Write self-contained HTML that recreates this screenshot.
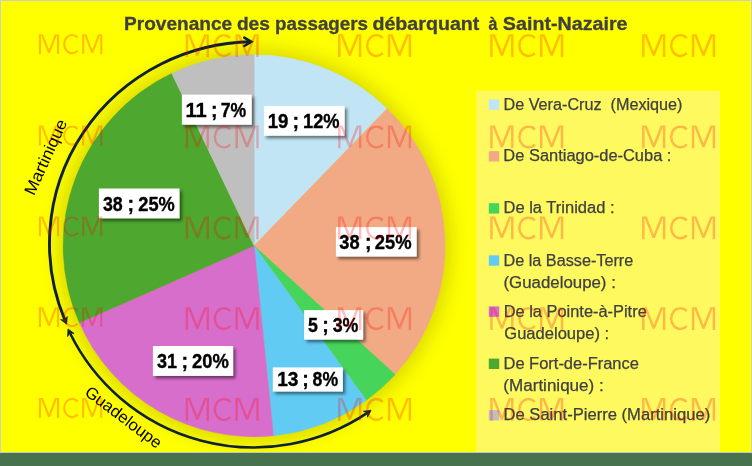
<!DOCTYPE html>
<html><head><meta charset="utf-8"><style>
html,body{margin:0;padding:0;background:#ffff00;}
body{width:752px;height:466px;overflow:hidden;position:relative;font-family:"Liberation Sans",sans-serif;}
svg{position:absolute;left:0;top:0;will-change:transform;}
svg text{font-family:"Liberation Sans",sans-serif;}
</style></head><body>
<svg width="752" height="466" viewBox="0 0 752 466">
<defs>
<filter id="ps" x="-20%" y="-20%" width="140%" height="140%"><feGaussianBlur stdDeviation="10"/></filter>
<filter id="ls" x="-20%" y="-30%" width="140%" height="170%"><feDropShadow dx="2.4" dy="2.6" stdDeviation="1.8" flood-color="#000" flood-opacity="0.5"/></filter>
<marker id="ah" viewBox="0 0 12 12" refX="10" refY="6" markerWidth="12" markerHeight="12" markerUnits="userSpaceOnUse" orient="auto-start-reverse"><path d="M1,1 L10,6 L1,11" fill="none" stroke="#0e2135" stroke-width="2.6" stroke-linecap="round" stroke-linejoin="miter"/></marker>
<marker id="ahs" viewBox="0 0 12 12" refX="9" refY="6" markerWidth="9" markerHeight="9" markerUnits="userSpaceOnUse" orient="auto-start-reverse"><path d="M1,1 L10,6 L1,11" fill="none" stroke="#0e2135" stroke-width="3" stroke-linecap="round"/></marker>
<clipPath id="c70_34"><rect x="37.90" y="34.20" width="65.40" height="20.80"/></clipPath><clipPath id="c70_125"><rect x="37.90" y="125.60" width="65.40" height="20.80"/></clipPath><clipPath id="c70_216"><rect x="37.90" y="216.50" width="65.40" height="20.80"/></clipPath><clipPath id="c70_307"><rect x="37.90" y="307.20" width="65.40" height="20.80"/></clipPath><clipPath id="c70_398"><rect x="37.90" y="398.10" width="65.40" height="20.80"/></clipPath><clipPath id="c222_34"><rect x="184.70" y="34.20" width="75.00" height="23.70"/></clipPath><clipPath id="c222_125"><rect x="184.70" y="125.60" width="75.00" height="23.70"/></clipPath><clipPath id="c222_216"><rect x="184.70" y="216.50" width="75.00" height="23.70"/></clipPath><clipPath id="c222_307"><rect x="184.70" y="307.20" width="75.00" height="23.70"/></clipPath><clipPath id="c222_398"><rect x="184.70" y="398.10" width="75.00" height="23.70"/></clipPath><clipPath id="c374_34"><rect x="337.10" y="34.20" width="75.00" height="23.70"/></clipPath><clipPath id="c374_125"><rect x="337.10" y="125.60" width="75.00" height="23.70"/></clipPath><clipPath id="c374_216"><rect x="337.10" y="216.50" width="75.00" height="23.70"/></clipPath><clipPath id="c374_307"><rect x="337.10" y="307.20" width="75.00" height="23.70"/></clipPath><clipPath id="c374_398"><rect x="337.10" y="398.10" width="75.00" height="23.70"/></clipPath><clipPath id="c526_34"><rect x="489.25" y="34.20" width="75.00" height="23.70"/></clipPath><clipPath id="c526_125"><rect x="489.25" y="125.60" width="75.00" height="23.70"/></clipPath><clipPath id="c526_216"><rect x="489.25" y="216.50" width="75.00" height="23.70"/></clipPath><clipPath id="c526_307"><rect x="489.25" y="307.20" width="75.00" height="23.70"/></clipPath><clipPath id="c526_398"><rect x="489.25" y="398.10" width="75.00" height="23.70"/></clipPath><clipPath id="c678_34"><rect x="641.10" y="34.20" width="75.00" height="23.70"/></clipPath><clipPath id="c678_125"><rect x="641.10" y="125.60" width="75.00" height="23.70"/></clipPath><clipPath id="c678_216"><rect x="641.10" y="216.50" width="75.00" height="23.70"/></clipPath><clipPath id="c678_307"><rect x="641.10" y="307.20" width="75.00" height="23.70"/></clipPath><clipPath id="c678_398"><rect x="641.10" y="398.10" width="75.00" height="23.70"/></clipPath>
</defs>
<rect x="476.2" y="90.8" width="243.8" height="362" fill="#fdf95f"/>
<circle cx="254.1" cy="245.7" r="195.95" fill="#000" opacity="0.16" filter="url(#ps)"/>
<path d="M254.1,245.7 L254.10,54.75 A190.95,190.95 0 0 1 387.05,108.64 Z" fill="#C1E5F5" stroke="#C1E5F5" stroke-width="0.5"/><path d="M254.1,245.7 L387.05,108.64 A190.95,190.95 0 0 1 395.14,374.43 Z" fill="#F2AA84" stroke="#F2AA84" stroke-width="0.5"/><path d="M254.1,245.7 L395.14,374.43 A190.95,190.95 0 0 1 366.34,400.18 Z" fill="#47D45A" stroke="#47D45A" stroke-width="0.5"/><path d="M254.1,245.7 L366.34,400.18 A190.95,190.95 0 0 1 273.42,435.67 Z" fill="#61CBF4" stroke="#61CBF4" stroke-width="0.5"/><path d="M254.1,245.7 L273.42,435.67 A190.95,190.95 0 0 1 79.40,322.78 Z" fill="#D86ECC" stroke="#D86ECC" stroke-width="0.5"/><path d="M254.1,245.7 L79.40,322.78 A190.95,190.95 0 0 1 171.75,73.42 Z" fill="#4EA72E" stroke="#4EA72E" stroke-width="0.5"/><path d="M254.1,245.7 L171.75,73.42 A190.95,190.95 0 0 1 254.10,54.75 Z" fill="#BFBFBF" stroke="#BFBFBF" stroke-width="0.5"/>
<rect x="263.9" y="105.9" width="80.7" height="29.8" fill="#fff" filter="url(#ls)"/><text id="lb0a" x="267.76" font-size="19.6" textLength="20.72" lengthAdjust="spacingAndGlyphs" y="127.50" font-weight="bold" fill="#000" stroke="#000" stroke-width="0.35">19</text><text id="lb0b" x="292.61" font-size="19.6" y="127.50" font-weight="bold" fill="#000" stroke="#000" stroke-width="0.35">;</text><text id="lb0c" x="302.97" font-size="19.6" textLength="36.63" lengthAdjust="spacingAndGlyphs" y="127.50" font-weight="bold" fill="#000" stroke="#000" stroke-width="0.35">12%</text><rect x="335.9" y="227.1" width="80.7" height="29.4" fill="#fff" filter="url(#ls)"/><text id="lb1a" x="339.33" font-size="19.6" textLength="20.31" lengthAdjust="spacingAndGlyphs" y="248.75" font-weight="bold" fill="#000" stroke="#000" stroke-width="0.35">38</text><text id="lb1b" x="364.91" font-size="19.6" y="248.75" font-weight="bold" fill="#000" stroke="#000" stroke-width="0.35">;</text><text id="lb1c" x="374.86" font-size="19.6" textLength="36.84" lengthAdjust="spacingAndGlyphs" y="248.75" font-weight="bold" fill="#000" stroke="#000" stroke-width="0.35">25%</text><rect x="304.1" y="310.1" width="59.0" height="29.5" fill="#fff" filter="url(#ls)"/><text id="lb2a" x="308.11" font-size="19.6" textLength="9.89" lengthAdjust="spacingAndGlyphs" y="331.60" font-weight="bold" fill="#000" stroke="#000" stroke-width="0.35">5</text><text id="lb2b" x="322.30" font-size="19.6" y="331.60" font-weight="bold" fill="#000" stroke="#000" stroke-width="0.35">;</text><text id="lb2c" x="332.69" font-size="19.6" textLength="25.74" lengthAdjust="spacingAndGlyphs" y="331.60" font-weight="bold" fill="#000" stroke="#000" stroke-width="0.35">3%</text><rect x="272.8" y="367.4" width="70.0" height="24.1" fill="#fff" filter="url(#ls)"/><text id="lb3a" x="277.16" font-size="19.6" textLength="21.24" lengthAdjust="spacingAndGlyphs" y="386.00" font-weight="bold" fill="#000" stroke="#000" stroke-width="0.35">13</text><text id="lb3b" x="302.23" font-size="19.6" y="386.00" font-weight="bold" fill="#000" stroke="#000" stroke-width="0.35">;</text><text id="lb3c" x="312.60" font-size="19.6" textLength="25.52" lengthAdjust="spacingAndGlyphs" y="386.00" font-weight="bold" fill="#000" stroke="#000" stroke-width="0.35">8%</text><rect x="152.9" y="346.0" width="80.2" height="29.9" fill="#fff" filter="url(#ls)"/><text id="lb4a" x="156.91" font-size="19.6" textLength="20.06" lengthAdjust="spacingAndGlyphs" y="368.10" font-weight="bold" fill="#000" stroke="#000" stroke-width="0.35">31</text><text id="lb4b" x="181.61" font-size="19.6" y="368.10" font-weight="bold" fill="#000" stroke="#000" stroke-width="0.35">;</text><text id="lb4c" x="191.97" font-size="19.6" textLength="36.77" lengthAdjust="spacingAndGlyphs" y="368.10" font-weight="bold" fill="#000" stroke="#000" stroke-width="0.35">20%</text><rect x="98.9" y="188.5" width="80.6" height="29.8" fill="#fff" filter="url(#ls)"/><text id="lb5a" x="102.91" font-size="19.6" textLength="19.75" lengthAdjust="spacingAndGlyphs" y="210.50" font-weight="bold" fill="#000" stroke="#000" stroke-width="0.35">38</text><text id="lb5b" x="127.56" font-size="19.6" y="210.50" font-weight="bold" fill="#000" stroke="#000" stroke-width="0.35">;</text><text id="lb5c" x="138.28" font-size="19.6" textLength="36.51" lengthAdjust="spacingAndGlyphs" y="210.50" font-weight="bold" fill="#000" stroke="#000" stroke-width="0.35">25%</text><rect x="181.9" y="94.6" width="69.8" height="30.1" fill="#fff" filter="url(#ls)"/><text id="lb6a" x="185.42" font-size="19.6" textLength="21.25" lengthAdjust="spacingAndGlyphs" y="116.50" font-weight="bold" fill="#000" stroke="#000" stroke-width="0.35">11</text><text id="lb6b" x="210.89" font-size="19.6" y="116.50" font-weight="bold" fill="#000" stroke="#000" stroke-width="0.35">;</text><text id="lb6c" x="220.69" font-size="19.6" textLength="25.47" lengthAdjust="spacingAndGlyphs" y="116.50" font-weight="bold" fill="#000" stroke="#000" stroke-width="0.35">7%</text>
<rect x="488.8" y="99.5" width="10.4" height="10.4" fill="#C1E5F5"/><text id="lg0_0" x="503.54" font-size="16" textLength="178.95" lengthAdjust="spacingAndGlyphs" y="109.7" fill="#404040" stroke="#404040" stroke-width="0.25">De Vera-Cruz  (Mexique)</text><rect x="488.8" y="151.1" width="10.4" height="10.4" fill="#F2AA84"/><text id="lg1_0" x="503.38" font-size="16" textLength="168.03" lengthAdjust="spacingAndGlyphs" y="161.3" fill="#404040" stroke="#404040" stroke-width="0.25">De Santiago-de-Cuba :</text><rect x="488.8" y="203.2" width="10.4" height="10.4" fill="#47D45A"/><text id="lg2_0" x="503.52" font-size="16" textLength="111.01" lengthAdjust="spacingAndGlyphs" y="213.4" fill="#404040" stroke="#404040" stroke-width="0.25">De la Trinidad :</text><rect x="488.8" y="255.3" width="10.4" height="10.4" fill="#61CBF4"/><text id="lg3_0" x="503.47" font-size="16" textLength="129.77" lengthAdjust="spacingAndGlyphs" y="265.5" fill="#404040" stroke="#404040" stroke-width="0.25">De la Basse-Terre</text><text id="lg3_1" x="503.51" font-size="16" textLength="112.33" lengthAdjust="spacingAndGlyphs" y="288.0" fill="#404040" stroke="#404040" stroke-width="0.25">(Guadeloupe) :</text><rect x="488.8" y="306.4" width="10.4" height="10.4" fill="#D86ECC"/><text id="lg4_0" x="503.71" font-size="16" textLength="143.06" lengthAdjust="spacingAndGlyphs" y="316.6" fill="#404040" stroke="#404040" stroke-width="0.25">De la Pointe-à-Pitre</text><text id="lg4_1" x="504.29" font-size="16" textLength="104.91" lengthAdjust="spacingAndGlyphs" y="339.1" fill="#404040" stroke="#404040" stroke-width="0.25">Guadeloupe) :</text><rect x="488.8" y="358.6" width="10.4" height="10.4" fill="#4EA72E"/><text id="lg5_0" x="503.51" font-size="16" textLength="135.38" lengthAdjust="spacingAndGlyphs" y="368.8" fill="#404040" stroke="#404040" stroke-width="0.25">De Fort-de-France</text><text id="lg5_1" x="503.39" font-size="16" textLength="100.33" lengthAdjust="spacingAndGlyphs" y="391.3" fill="#404040" stroke="#404040" stroke-width="0.25">(Martinique) :</text><rect x="488.8" y="410.1" width="10.4" height="10.4" fill="#BFBFBF"/><text id="lg6_0" x="503.48" font-size="16" textLength="206.71" lengthAdjust="spacingAndGlyphs" y="420.3" fill="#404040" stroke="#404040" stroke-width="0.25">De Saint-Pierre (Martinique)</text>
<text id="tw0" x="124.05" font-size="19.2" textLength="108.15" lengthAdjust="spacingAndGlyphs" y="30.3" font-weight="bold" fill="#404040" stroke="#404040" stroke-width="0.3">Provenance</text><text id="tw1" x="236.90" font-size="19.2" textLength="33.06" lengthAdjust="spacingAndGlyphs" y="30.3" font-weight="bold" fill="#404040" stroke="#404040" stroke-width="0.3">des</text><text id="tw2" x="275.08" font-size="19.2" textLength="92.92" lengthAdjust="spacingAndGlyphs" y="30.3" font-weight="bold" fill="#404040" stroke="#404040" stroke-width="0.3">passagers</text><text id="tw3" x="372.43" font-size="19.2" textLength="106.94" lengthAdjust="spacingAndGlyphs" y="30.3" font-weight="bold" fill="#404040" stroke="#404040" stroke-width="0.3">débarquant</text><text id="tw4" x="488.38" font-size="19.2" textLength="8.92" lengthAdjust="spacingAndGlyphs" y="30.3" font-weight="bold" fill="#404040" stroke="#404040" stroke-width="0.3">à</text><text id="tw5" x="502.88" font-size="19.2" textLength="124.63" lengthAdjust="spacingAndGlyphs" y="30.3" font-weight="bold" fill="#404040" stroke="#404040" stroke-width="0.3">Saint-Nazaire</text>
<path d="M64.90,320.15 A205.4,201.75 0 0 1 250.96,41.79" fill="none" stroke="#0e2135" stroke-width="2.9"/><path d="M66.68,324.27 L60.63,319.52 L64.97,320.43 L67.20,316.59 Z" fill="#0e2135" stroke="#0e2135" stroke-width="0.8" stroke-linejoin="miter"/><path d="M244.32,46.00 L251.30,41.77 L244.28,37.60" fill="none" stroke="#0e2135" stroke-width="2.6" stroke-linejoin="miter" stroke-miterlimit="10" stroke-linecap="round"/>
<path d="M69.95,332.99 A204.52,204.52 0 0 0 367.31,412.89" fill="none" stroke="#0e2135" stroke-width="2.6"/><path d="M68.02,328.93 L74.14,333.59 L69.78,332.74 L67.61,336.62 Z" fill="#0e2135" stroke="#0e2135" stroke-width="0.8" stroke-linejoin="miter"/><path d="M371.02,410.35 L367.52,417.20 L367.59,412.76 L363.39,411.31 Z" fill="#0e2135" stroke="#0e2135" stroke-width="0.8" stroke-linejoin="miter"/>
<text id="tm" transform="translate(50.81,159.31) rotate(-65.5)" text-anchor="middle" y="0" font-size="16.5" textLength="81.0" lengthAdjust="spacingAndGlyphs" fill="#000">Martinique</text>
<text id="tg" transform="translate(120.16,421.61) rotate(37.0)" text-anchor="middle" y="0" font-size="16.5" textLength="91.3" lengthAdjust="spacingAndGlyphs" fill="#000">Guadeloupe</text>
<rect x="0" y="452" width="752" height="1.2" fill="#c4c4c4"/>
<rect x="0" y="453" width="752" height="13" fill="#48724e"/>
<rect x="0" y="0" width="752" height="1" fill="#cdcdcd"/>
<rect x="0" y="0" width="1" height="453" fill="#cdcdcd"/>
<rect x="751" y="0" width="1" height="453" fill="#cdcdcd"/>
<g stroke="#ff0000" opacity="0.26">
<g clip-path="url(#c70_34)"><path d="M39.96,54.00 L39.96,31.20 L40.73,31.20 L48.99,52.62 L57.25,31.20 L58.03,31.20 L58.03,54.00" fill="none" stroke-width="2.11" stroke-linejoin="bevel"/><path d="M77.62,37.55 A7.94,9.10 0 1 0 77.62,50.65" fill="none" stroke-width="2.11"/><path d="M83.17,54.00 L83.17,31.20 L83.95,31.20 L92.21,52.62 L100.47,31.20 L101.24,31.20 L101.24,54.00" fill="none" stroke-width="2.11" stroke-linejoin="bevel"/></g><g clip-path="url(#c70_125)"><path d="M39.96,145.40 L39.96,122.60 L40.73,122.60 L48.99,144.02 L57.25,122.60 L58.03,122.60 L58.03,145.40" fill="none" stroke-width="2.11" stroke-linejoin="bevel"/><path d="M77.62,128.95 A7.94,9.10 0 1 0 77.62,142.05" fill="none" stroke-width="2.11"/><path d="M83.17,145.40 L83.17,122.60 L83.95,122.60 L92.21,144.02 L100.47,122.60 L101.24,122.60 L101.24,145.40" fill="none" stroke-width="2.11" stroke-linejoin="bevel"/></g><g clip-path="url(#c70_216)"><path d="M39.96,236.30 L39.96,213.50 L40.73,213.50 L48.99,234.92 L57.25,213.50 L58.03,213.50 L58.03,236.30" fill="none" stroke-width="2.11" stroke-linejoin="bevel"/><path d="M77.62,219.85 A7.94,9.10 0 1 0 77.62,232.95" fill="none" stroke-width="2.11"/><path d="M83.17,236.30 L83.17,213.50 L83.95,213.50 L92.21,234.92 L100.47,213.50 L101.24,213.50 L101.24,236.30" fill="none" stroke-width="2.11" stroke-linejoin="bevel"/></g><g clip-path="url(#c70_307)"><path d="M39.96,327.00 L39.96,304.20 L40.73,304.20 L48.99,325.62 L57.25,304.20 L58.03,304.20 L58.03,327.00" fill="none" stroke-width="2.11" stroke-linejoin="bevel"/><path d="M77.62,310.55 A7.94,9.10 0 1 0 77.62,323.65" fill="none" stroke-width="2.11"/><path d="M83.17,327.00 L83.17,304.20 L83.95,304.20 L92.21,325.62 L100.47,304.20 L101.24,304.20 L101.24,327.00" fill="none" stroke-width="2.11" stroke-linejoin="bevel"/></g><g clip-path="url(#c70_398)"><path d="M39.96,417.90 L39.96,395.10 L40.73,395.10 L48.99,416.52 L57.25,395.10 L58.03,395.10 L58.03,417.90" fill="none" stroke-width="2.11" stroke-linejoin="bevel"/><path d="M77.62,401.45 A7.94,9.10 0 1 0 77.62,414.55" fill="none" stroke-width="2.11"/><path d="M83.17,417.90 L83.17,395.10 L83.95,395.10 L92.21,416.52 L100.47,395.10 L101.24,395.10 L101.24,417.90" fill="none" stroke-width="2.11" stroke-linejoin="bevel"/></g><g clip-path="url(#c222_34)"><path d="M186.92,56.90 L186.92,31.20 L187.81,31.20 L197.32,55.31 L206.83,31.20 L207.72,31.20 L207.72,56.90" fill="none" stroke-width="2.43" stroke-linejoin="bevel"/><path d="M230.29,38.05 A9.14,10.43 0 1 0 230.29,53.05" fill="none" stroke-width="2.43"/><path d="M236.68,56.90 L236.68,31.20 L237.57,31.20 L247.08,55.31 L256.59,31.20 L257.48,31.20 L257.48,56.90" fill="none" stroke-width="2.43" stroke-linejoin="bevel"/></g><g clip-path="url(#c222_125)"><path d="M186.92,148.30 L186.92,122.60 L187.81,122.60 L197.32,146.71 L206.83,122.60 L207.72,122.60 L207.72,148.30" fill="none" stroke-width="2.43" stroke-linejoin="bevel"/><path d="M230.29,129.45 A9.14,10.43 0 1 0 230.29,144.45" fill="none" stroke-width="2.43"/><path d="M236.68,148.30 L236.68,122.60 L237.57,122.60 L247.08,146.71 L256.59,122.60 L257.48,122.60 L257.48,148.30" fill="none" stroke-width="2.43" stroke-linejoin="bevel"/></g><g clip-path="url(#c222_216)"><path d="M186.92,239.20 L186.92,213.50 L187.81,213.50 L197.32,237.61 L206.83,213.50 L207.72,213.50 L207.72,239.20" fill="none" stroke-width="2.43" stroke-linejoin="bevel"/><path d="M230.29,220.35 A9.14,10.43 0 1 0 230.29,235.35" fill="none" stroke-width="2.43"/><path d="M236.68,239.20 L236.68,213.50 L237.57,213.50 L247.08,237.61 L256.59,213.50 L257.48,213.50 L257.48,239.20" fill="none" stroke-width="2.43" stroke-linejoin="bevel"/></g><g clip-path="url(#c222_307)"><path d="M186.92,329.90 L186.92,304.20 L187.81,304.20 L197.32,328.31 L206.83,304.20 L207.72,304.20 L207.72,329.90" fill="none" stroke-width="2.43" stroke-linejoin="bevel"/><path d="M230.29,311.05 A9.14,10.43 0 1 0 230.29,326.05" fill="none" stroke-width="2.43"/><path d="M236.68,329.90 L236.68,304.20 L237.57,304.20 L247.08,328.31 L256.59,304.20 L257.48,304.20 L257.48,329.90" fill="none" stroke-width="2.43" stroke-linejoin="bevel"/></g><g clip-path="url(#c222_398)"><path d="M186.92,420.80 L186.92,395.10 L187.81,395.10 L197.32,419.21 L206.83,395.10 L207.72,395.10 L207.72,420.80" fill="none" stroke-width="2.43" stroke-linejoin="bevel"/><path d="M230.29,401.95 A9.14,10.43 0 1 0 230.29,416.95" fill="none" stroke-width="2.43"/><path d="M236.68,420.80 L236.68,395.10 L237.57,395.10 L247.08,419.21 L256.59,395.10 L257.48,395.10 L257.48,420.80" fill="none" stroke-width="2.43" stroke-linejoin="bevel"/></g><g clip-path="url(#c374_34)"><path d="M339.32,56.90 L339.32,31.20 L340.21,31.20 L349.72,55.31 L359.23,31.20 L360.12,31.20 L360.12,56.90" fill="none" stroke-width="2.43" stroke-linejoin="bevel"/><path d="M382.69,38.05 A9.14,10.43 0 1 0 382.69,53.05" fill="none" stroke-width="2.43"/><path d="M389.08,56.90 L389.08,31.20 L389.97,31.20 L399.48,55.31 L408.99,31.20 L409.88,31.20 L409.88,56.90" fill="none" stroke-width="2.43" stroke-linejoin="bevel"/></g><g clip-path="url(#c374_125)"><path d="M339.32,148.30 L339.32,122.60 L340.21,122.60 L349.72,146.71 L359.23,122.60 L360.12,122.60 L360.12,148.30" fill="none" stroke-width="2.43" stroke-linejoin="bevel"/><path d="M382.69,129.45 A9.14,10.43 0 1 0 382.69,144.45" fill="none" stroke-width="2.43"/><path d="M389.08,148.30 L389.08,122.60 L389.97,122.60 L399.48,146.71 L408.99,122.60 L409.88,122.60 L409.88,148.30" fill="none" stroke-width="2.43" stroke-linejoin="bevel"/></g><g clip-path="url(#c374_216)"><path d="M339.32,239.20 L339.32,213.50 L340.21,213.50 L349.72,237.61 L359.23,213.50 L360.12,213.50 L360.12,239.20" fill="none" stroke-width="2.43" stroke-linejoin="bevel"/><path d="M382.69,220.35 A9.14,10.43 0 1 0 382.69,235.35" fill="none" stroke-width="2.43"/><path d="M389.08,239.20 L389.08,213.50 L389.97,213.50 L399.48,237.61 L408.99,213.50 L409.88,213.50 L409.88,239.20" fill="none" stroke-width="2.43" stroke-linejoin="bevel"/></g><g clip-path="url(#c374_307)"><path d="M339.32,329.90 L339.32,304.20 L340.21,304.20 L349.72,328.31 L359.23,304.20 L360.12,304.20 L360.12,329.90" fill="none" stroke-width="2.43" stroke-linejoin="bevel"/><path d="M382.69,311.05 A9.14,10.43 0 1 0 382.69,326.05" fill="none" stroke-width="2.43"/><path d="M389.08,329.90 L389.08,304.20 L389.97,304.20 L399.48,328.31 L408.99,304.20 L409.88,304.20 L409.88,329.90" fill="none" stroke-width="2.43" stroke-linejoin="bevel"/></g><g clip-path="url(#c374_398)"><path d="M339.32,420.80 L339.32,395.10 L340.21,395.10 L349.72,419.21 L359.23,395.10 L360.12,395.10 L360.12,420.80" fill="none" stroke-width="2.43" stroke-linejoin="bevel"/><path d="M382.69,401.95 A9.14,10.43 0 1 0 382.69,416.95" fill="none" stroke-width="2.43"/><path d="M389.08,420.80 L389.08,395.10 L389.97,395.10 L399.48,419.21 L408.99,395.10 L409.88,395.10 L409.88,420.80" fill="none" stroke-width="2.43" stroke-linejoin="bevel"/></g><g clip-path="url(#c526_34)"><path d="M491.47,56.90 L491.47,31.20 L492.36,31.20 L501.87,55.31 L511.38,31.20 L512.27,31.20 L512.27,56.90" fill="none" stroke-width="2.43" stroke-linejoin="bevel"/><path d="M534.84,38.05 A9.14,10.43 0 1 0 534.84,53.05" fill="none" stroke-width="2.43"/><path d="M541.23,56.90 L541.23,31.20 L542.12,31.20 L551.63,55.31 L561.14,31.20 L562.03,31.20 L562.03,56.90" fill="none" stroke-width="2.43" stroke-linejoin="bevel"/></g><g clip-path="url(#c526_125)"><path d="M491.47,148.30 L491.47,122.60 L492.36,122.60 L501.87,146.71 L511.38,122.60 L512.27,122.60 L512.27,148.30" fill="none" stroke-width="2.43" stroke-linejoin="bevel"/><path d="M534.84,129.45 A9.14,10.43 0 1 0 534.84,144.45" fill="none" stroke-width="2.43"/><path d="M541.23,148.30 L541.23,122.60 L542.12,122.60 L551.63,146.71 L561.14,122.60 L562.03,122.60 L562.03,148.30" fill="none" stroke-width="2.43" stroke-linejoin="bevel"/></g><g clip-path="url(#c526_216)"><path d="M491.47,239.20 L491.47,213.50 L492.36,213.50 L501.87,237.61 L511.38,213.50 L512.27,213.50 L512.27,239.20" fill="none" stroke-width="2.43" stroke-linejoin="bevel"/><path d="M534.84,220.35 A9.14,10.43 0 1 0 534.84,235.35" fill="none" stroke-width="2.43"/><path d="M541.23,239.20 L541.23,213.50 L542.12,213.50 L551.63,237.61 L561.14,213.50 L562.03,213.50 L562.03,239.20" fill="none" stroke-width="2.43" stroke-linejoin="bevel"/></g><g clip-path="url(#c526_307)"><path d="M491.47,329.90 L491.47,304.20 L492.36,304.20 L501.87,328.31 L511.38,304.20 L512.27,304.20 L512.27,329.90" fill="none" stroke-width="2.43" stroke-linejoin="bevel"/><path d="M534.84,311.05 A9.14,10.43 0 1 0 534.84,326.05" fill="none" stroke-width="2.43"/><path d="M541.23,329.90 L541.23,304.20 L542.12,304.20 L551.63,328.31 L561.14,304.20 L562.03,304.20 L562.03,329.90" fill="none" stroke-width="2.43" stroke-linejoin="bevel"/></g><g clip-path="url(#c526_398)"><path d="M491.47,420.80 L491.47,395.10 L492.36,395.10 L501.87,419.21 L511.38,395.10 L512.27,395.10 L512.27,420.80" fill="none" stroke-width="2.43" stroke-linejoin="bevel"/><path d="M534.84,401.95 A9.14,10.43 0 1 0 534.84,416.95" fill="none" stroke-width="2.43"/><path d="M541.23,420.80 L541.23,395.10 L542.12,395.10 L551.63,419.21 L561.14,395.10 L562.03,395.10 L562.03,420.80" fill="none" stroke-width="2.43" stroke-linejoin="bevel"/></g><g clip-path="url(#c678_34)"><path d="M643.32,56.90 L643.32,31.20 L644.21,31.20 L653.72,55.31 L663.23,31.20 L664.12,31.20 L664.12,56.90" fill="none" stroke-width="2.43" stroke-linejoin="bevel"/><path d="M686.69,38.05 A9.14,10.43 0 1 0 686.69,53.05" fill="none" stroke-width="2.43"/><path d="M693.08,56.90 L693.08,31.20 L693.97,31.20 L703.48,55.31 L712.99,31.20 L713.88,31.20 L713.88,56.90" fill="none" stroke-width="2.43" stroke-linejoin="bevel"/></g><g clip-path="url(#c678_125)"><path d="M643.32,148.30 L643.32,122.60 L644.21,122.60 L653.72,146.71 L663.23,122.60 L664.12,122.60 L664.12,148.30" fill="none" stroke-width="2.43" stroke-linejoin="bevel"/><path d="M686.69,129.45 A9.14,10.43 0 1 0 686.69,144.45" fill="none" stroke-width="2.43"/><path d="M693.08,148.30 L693.08,122.60 L693.97,122.60 L703.48,146.71 L712.99,122.60 L713.88,122.60 L713.88,148.30" fill="none" stroke-width="2.43" stroke-linejoin="bevel"/></g><g clip-path="url(#c678_216)"><path d="M643.32,239.20 L643.32,213.50 L644.21,213.50 L653.72,237.61 L663.23,213.50 L664.12,213.50 L664.12,239.20" fill="none" stroke-width="2.43" stroke-linejoin="bevel"/><path d="M686.69,220.35 A9.14,10.43 0 1 0 686.69,235.35" fill="none" stroke-width="2.43"/><path d="M693.08,239.20 L693.08,213.50 L693.97,213.50 L703.48,237.61 L712.99,213.50 L713.88,213.50 L713.88,239.20" fill="none" stroke-width="2.43" stroke-linejoin="bevel"/></g><g clip-path="url(#c678_307)"><path d="M643.32,329.90 L643.32,304.20 L644.21,304.20 L653.72,328.31 L663.23,304.20 L664.12,304.20 L664.12,329.90" fill="none" stroke-width="2.43" stroke-linejoin="bevel"/><path d="M686.69,311.05 A9.14,10.43 0 1 0 686.69,326.05" fill="none" stroke-width="2.43"/><path d="M693.08,329.90 L693.08,304.20 L693.97,304.20 L703.48,328.31 L712.99,304.20 L713.88,304.20 L713.88,329.90" fill="none" stroke-width="2.43" stroke-linejoin="bevel"/></g><g clip-path="url(#c678_398)"><path d="M643.32,420.80 L643.32,395.10 L644.21,395.10 L653.72,419.21 L663.23,395.10 L664.12,395.10 L664.12,420.80" fill="none" stroke-width="2.43" stroke-linejoin="bevel"/><path d="M686.69,401.95 A9.14,10.43 0 1 0 686.69,416.95" fill="none" stroke-width="2.43"/><path d="M693.08,420.80 L693.08,395.10 L693.97,395.10 L703.48,419.21 L712.99,395.10 L713.88,395.10 L713.88,420.80" fill="none" stroke-width="2.43" stroke-linejoin="bevel"/></g>
</g>
</svg>
</body></html>
